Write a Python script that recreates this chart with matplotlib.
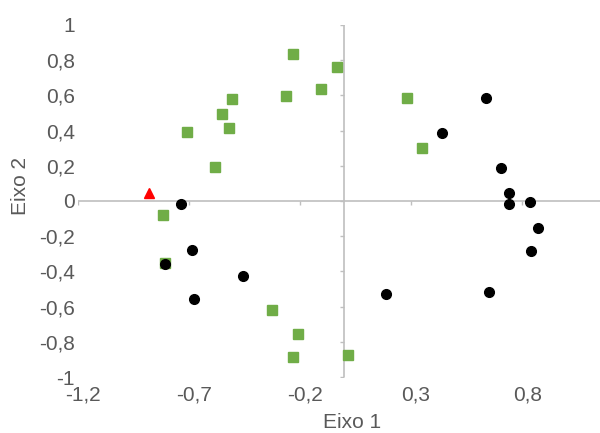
import matplotlib
matplotlib.use('Agg')
import matplotlib.pyplot as plt
import matplotlib.transforms as mtransforms

plt.rcParams['font.family'] = ['Liberation Sans', 'DejaVu Sans']

# green squares
green_x = [-0.232, -0.263, -0.507, -0.550, -0.521, -0.709, -0.581, -0.034, -0.104,
           0.282, 0.350, -0.814, -0.808, -0.327, -0.210, -0.232, 0.014]
green_y = [0.833, 0.595, 0.578, 0.494, 0.417, 0.392, 0.195, 0.763, 0.635,
           0.587, 0.301, -0.080, -0.354, -0.619, -0.756, -0.886, -0.875]

# black circles
black_x = [-0.736, -0.686, -0.807, -0.456, -0.678, 0.638, 0.437, 0.704, 0.742,
           0.742, 0.833, 0.869, 0.840, 0.186, 0.650]
black_y = [-0.017, -0.278, -0.358, -0.426, -0.557, 0.587, 0.385, 0.186, 0.047,
           -0.015, -0.006, -0.155, -0.286, -0.527, -0.517]

# red triangle
red_x = [-0.880]
red_y = [0.044]

xticks = [-1.2, -0.7, -0.2, 0.3, 0.8]
xlabels = ['-1,2', '-0,7', '-0,2', '0,3', '0,8']
yticks = [-1, -0.8, -0.6, -0.4, -0.2, 0, 0.2, 0.4, 0.6, 0.8, 1]
ylabels = ['-1', '-0,8', '-0,6', '-0,4', '-0,2', '0', '0,2', '0,4', '0,6', '0,8', '1']

axis_col = '#BFBFBF'
text_col = '#595959'

fig = plt.figure(figsize=(6, 4.33), dpi=100)
ax = fig.add_axes([0.1295, 0.1293, 0.8705, 0.813])

# axis lines crossing at zero
ax.axhline(0, color=axis_col, lw=1.2, zorder=1)
ax.axvline(0, color=axis_col, lw=1.2, zorder=1)
# small tick marks on the zero lines
ax.plot([0] * len(yticks), yticks, ls='', marker=0, ms=3, mew=1, color=axis_col, zorder=1)
ax.plot(xticks, [0] * len(xticks), ls='', marker=3, ms=3, mew=1, color=axis_col, zorder=1)

ax.plot(green_x, green_y, ls='', marker='s', ms=6.5, color='#70AD47', zorder=3)
ax.plot(black_x, black_y, ls='', marker='o', ms=7, color='black', zorder=4)
ax.plot(red_x, red_y, ls='', marker='^', ms=7, color='#FF0000', zorder=5)

ax.set_xlim(-1.2, 1.15)
ax.set_ylim(-1, 1)
for s in ax.spines.values():
    s.set_visible(False)

ax.set_xticks(xticks)
ax.set_xticklabels(xlabels)
ax.set_yticks(yticks)
ax.set_yticklabels(ylabels)
ax.tick_params(axis='both', length=0, labelsize=15, colors=text_col)
ax.tick_params(axis='x', pad=6)
ax.tick_params(axis='y', pad=2)

shift = mtransforms.ScaledTranslation(5 / 100, 0, fig.dpi_scale_trans)
for lab in ax.get_xticklabels():
    lab.set_transform(lab.get_transform() + shift)

fig.text(352 / 600, 1 - 423 / 433, 'Eixo 1', fontsize=15, color=text_col,
         ha='center', va='center')
fig.text(21 / 600, 1 - 186 / 433, 'Eixo 2', fontsize=15, color=text_col,
         ha='center', va='center', rotation=90)

fig.savefig('out.png', dpi=100)
